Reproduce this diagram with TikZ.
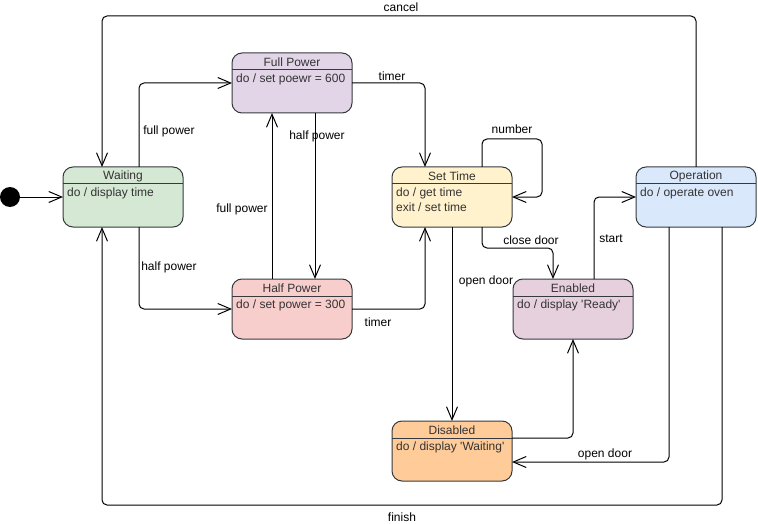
\documentclass[tikz,border=0pt]{standalone}
\usepackage{fontspec}
\setmainfont{Liberation Sans}[Ligatures=TeXOff]
\usetikzlibrary{arrows.meta,calc}
\definecolor{cWait}{HTML}{D5E8D4}
\definecolor{cFull}{HTML}{E1D5E7}
\definecolor{cHalf}{HTML}{F8CECC}
\definecolor{cSet}{HTML}{FFF2CC}
\definecolor{cOp}{HTML}{DAE8FC}
\definecolor{cEn}{HTML}{E6D0DE}
\definecolor{cDis}{HTML}{FFCC99}
\definecolor{cBorder}{HTML}{36393D}
\definecolor{cText}{HTML}{333333}
\begin{document}
\begin{tikzpicture}[x=1pt,y=-1pt,
  font=\fontsize{12pt}{14pt}\selectfont,
  state/.style={draw=cBorder, line width=1pt, rounded corners=10pt, minimum width=120pt, minimum height=60pt, inner sep=0pt, outer sep=0pt},
  hdr/.style={draw=cBorder, line width=1pt},
  ttl/.style={text=cText, inner sep=0pt, anchor=center},
  bdy/.style={text=cText, inner sep=0pt, anchor=west},
  arr/.style={draw=black, line width=1pt, rounded corners=5pt, -{Straight Barb[length=13pt,width=11pt]}},
  lbl/.style={text=black, inner sep=0pt}]
\useasboundingbox (0,0) rectangle (758,524);

% initial state
\node[circle, fill=black, minimum size=20pt, inner sep=0pt] (init) at (10,197) {};

% states
\node[state, fill=cWait] (wait) at (123,197) {};
\node[state, fill=cFull] (full) at (292,83) {};
\node[state, fill=cHalf] (half) at (292,309) {};
\node[state, fill=cSet] (set) at (452,197) {};
\node[state, fill=cOp] (op) at (696,197) {};
\node[state, fill=cEn] (en) at (573,309) {};
\node[state, fill=cDis] (dis) at (452,451) {};

% headers and texts
\foreach \n/\t/\b in {wait/Waiting/{do / display time},
                      full/Full Power/{do / set poewr = 600},
                      half/Half Power/{do / set power = 300},
                      set/Set Time/{do / get time},
                      op/Operation/{do / operate oven},
                      en/Enabled/{do / display 'Ready'},
                      dis/Disabled/{do / display 'Waiting'}}{
  \draw[hdr] ([yshift=-17pt]\n.north west) -- ([yshift=-17pt]\n.north east);
  \node[ttl] (\n-title) at ([yshift=-9pt]\n.north) {\t};
  \node[bdy] (\n-body) at ([xshift=4pt,yshift=-26.5pt]\n.north west) {\b};
}
\node[bdy] (set-body2) at ([xshift=4pt,yshift=-40.5pt]set.north west) {exit / set time};

% transitions
\draw[arr] (init) -- (wait.west);
\draw[arr] (op.north) -- ++(0,-151) -| ([xshift=-21pt]wait.north);
\draw[arr] ([xshift=16pt]wait.north) |- (full.west);
\draw[arr] ([xshift=16pt]wait.south) |- (half.west);
\draw[arr] ([xshift=-20pt]half.north) -- ([xshift=-20pt]full.south);
\draw[arr] ([xshift=23pt]full.south) -- ([xshift=23pt]half.north);
\draw[arr] (full.east) -| ([xshift=-27pt]set.north);
\draw[arr] (half.east) -| ([xshift=-27pt]set.south);
\draw[arr] ([xshift=30pt]set.north) |- ++(60,-28) |- (set.east);
\draw[arr] ([xshift=30pt]set.south) -- ++(0,21) -| ([xshift=-20pt]en.north);
\draw[arr] (set.south) -- (dis.north);
\draw[arr] ([xshift=21pt]en.north) |- (op.west);
\draw[arr] ([yshift=13pt]dis.east) -| (en.south);
\draw[arr] ([xshift=-27pt]op.south) |- ([yshift=-11pt]dis.east);
\draw[arr] ([xshift=26pt]op.south) -- ++(0,278) -| ([xshift=-21pt]wait.south);

% labels
\node[lbl] (l-cancel) at (401,7) {cancel};
\node[lbl] (l-fp1) at (169,131) {full power};
\node[lbl] (l-hp1) at (169,267) {half power};
\node[lbl] (l-fp2) at (242,209) {full power};
\node[lbl] (l-hp2) at (317,136) {half power};
\node[lbl] (l-t1) at (392,76) {timer};
\node[lbl] (l-t2) at (378,322) {timer};
\node[lbl] (l-num) at (512,129) {number};
\node[lbl] (l-cd) at (531,240) {close door};
\node[lbl] (l-st) at (611,239) {start};
\node[lbl] (l-od1) at (486,281) {open door};
\node[lbl] (l-od2) at (605,454) {open door};
\node[lbl] (l-fin) at (402,517) {finish};
\end{tikzpicture}
\end{document}
